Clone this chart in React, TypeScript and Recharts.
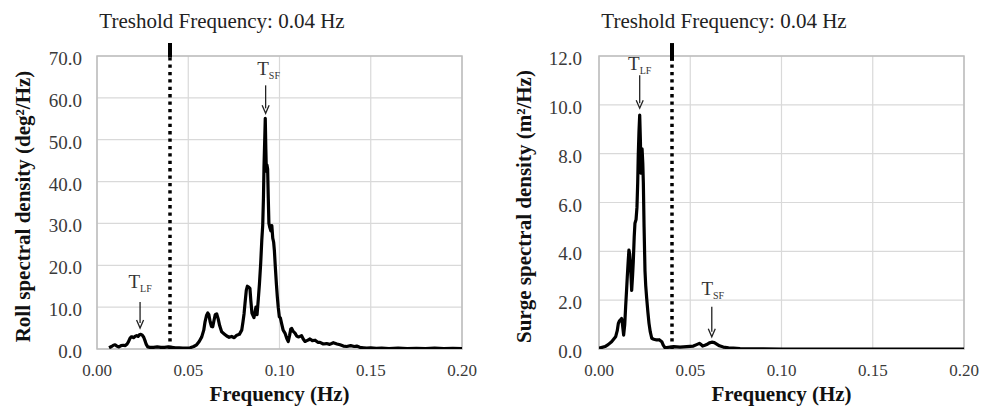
import React from 'react';
import {
  LineChart,
  Line,
  XAxis,
  YAxis,
  CartesianGrid,
  ReferenceLine,
  ReferenceDot,
  ReferenceArea,
  Label,
} from 'recharts';

// ---------------- DATA ----------------
const rollFreq = [
  0.0066, 0.008, 0.009, 0.0099, 0.0108, 0.012, 0.0132, 0.0144, 0.0155, 0.0165, 0.0172, 0.018, 0.0187,
  0.0193, 0.02, 0.0208, 0.0217, 0.0225, 0.0232, 0.024, 0.0248, 0.0256, 0.0263, 0.027, 0.0278, 0.029,
  0.031, 0.033, 0.035, 0.037, 0.039, 0.041, 0.043, 0.045, 0.047, 0.049, 0.051, 0.053, 0.0546, 0.056,
  0.0574, 0.0585, 0.0592, 0.06, 0.0607, 0.0613, 0.062, 0.0627, 0.0634, 0.0641, 0.0648, 0.0656, 0.0664,
  0.0672, 0.0683, 0.0697, 0.0711, 0.0724, 0.0738, 0.0752, 0.0766, 0.078, 0.0793, 0.08, 0.0806, 0.0811,
  0.0818, 0.0824, 0.0831, 0.0838, 0.0843, 0.0849, 0.0855, 0.086, 0.0866, 0.0871, 0.0877, 0.0884, 0.089,
  0.0897, 0.0903, 0.0908, 0.0912, 0.0915, 0.0919, 0.0922, 0.0925, 0.0928, 0.0931, 0.0935, 0.0938, 0.0942,
  0.0947, 0.0953, 0.0958, 0.0963, 0.0968, 0.0972, 0.0977, 0.0983, 0.0988, 0.0993, 0.0999, 0.1005, 0.1012,
  0.102, 0.103, 0.104, 0.1048, 0.1055, 0.1062, 0.1067, 0.1075, 0.1085, 0.1094, 0.1103, 0.1112, 0.1121,
  0.113, 0.114, 0.115, 0.116, 0.1167, 0.118, 0.1195, 0.121, 0.1222, 0.124, 0.1258, 0.1275, 0.1295,
  0.1315, 0.1332, 0.135, 0.1368, 0.139, 0.141, 0.1423, 0.144, 0.146, 0.1478, 0.15, 0.153, 0.156, 0.16,
  0.165, 0.17, 0.175, 0.18, 0.185, 0.19, 0.195, 0.2,
];
const rollVal = [
  0.3, 0.6, 0.9, 1.0, 0.7, 0.5, 0.8, 0.9, 0.8, 1.2, 1.7, 2.5, 2.9,
  2.9, 2.7, 3.0, 3.2, 3.0, 3.4, 3.5, 3.3, 2.8, 2.0, 1.1, 0.5, 0.4,
  0.4, 0.5, 0.4, 0.4, 0.5, 0.4, 0.3, 0.3, 0.2, 0.2, 0.3, 0.6, 1.0, 1.8,
  2.9, 4.5, 6.5, 8.0, 8.6, 8.2, 6.5, 5.4, 5.3, 6.8, 8.2, 8.4, 7.2,
  5.6, 4.1, 3.6, 3.1, 2.8, 3.0, 2.7, 3.3, 3.5, 4.5, 6.5, 8.5, 10.9,
  14.0, 15.0, 14.8, 14.5, 11.5, 8.6, 8.0, 7.5, 8.8, 10.0, 8.2, 12.0, 15.5,
  20.5, 26.0, 29.5, 36.0, 43.5, 50.0, 55.1, 48.0, 42.5, 44.0, 43.0, 37.0, 30.0,
  29.0, 28.2, 29.5, 26.5, 25.5, 23.5, 19.7, 15.5, 12.5, 10.0, 7.7, 7.4, 6.0,
  4.5, 3.8, 2.5, 1.8, 3.2, 4.8, 4.9, 4.2, 3.8, 3.1, 2.9, 3.0, 3.2,
  2.4, 1.8, 2.0, 2.2, 2.4, 2.0, 2.1, 1.6, 1.6, 1.2, 1.3, 1.1, 1.5,
  1.2, 1.0, 0.7, 0.6, 0.8, 0.6, 0.7, 0.4, 0.3, 0.2, 0.3, 0.15, 0.2, 0.1,
  0.2, 0.1, 0.15, 0.1, 0.2, 0.1, 0.15, 0.1,
];

const surgeFreq = [
  0.0, 0.0033, 0.005, 0.0069, 0.008, 0.0091, 0.01, 0.0106, 0.0112, 0.0119, 0.0124, 0.0128, 0.0135,
  0.0141, 0.0146, 0.0151, 0.0155, 0.016, 0.0164, 0.0168, 0.0172, 0.0176, 0.0179, 0.0184, 0.0188,
  0.0193, 0.0197, 0.0203, 0.0208, 0.0212, 0.0215, 0.0219, 0.0223, 0.0227, 0.023, 0.0233, 0.0236,
  0.024, 0.0243, 0.0247, 0.0252, 0.0256, 0.0261, 0.0268, 0.0274, 0.0281, 0.0289, 0.03, 0.0316,
  0.033, 0.0344, 0.0352, 0.0362, 0.0371, 0.039, 0.041, 0.0444, 0.048, 0.0517, 0.0535, 0.055, 0.056,
  0.0568, 0.058, 0.059, 0.0605, 0.0618, 0.0632, 0.0645, 0.066, 0.0681, 0.071, 0.0736, 0.0773, 0.08,
  0.09, 0.1, 0.2,
];
const surgeVal = [
  0.03, 0.1, 0.18, 0.3, 0.4, 0.5, 0.75, 1.05, 1.15, 1.2, 1.25, 1.05, 0.57,
  1.0, 1.73, 2.4, 2.96, 3.6, 4.05, 3.9, 3.5, 2.9, 2.4, 3.0, 3.6,
  4.6, 5.15, 5.3, 5.8, 6.8, 7.9, 8.9, 9.58, 8.5, 7.2, 7.8, 8.2,
  7.6, 6.8, 5.0, 3.2, 2.6, 2.1, 1.5, 1.05, 0.7, 0.44, 0.4, 0.37,
  0.38, 0.3, 0.16, 0.05, 0.06, 0.08, 0.1, 0.08, 0.1, 0.12, 0.18, 0.23, 0.18,
  0.12, 0.15, 0.18, 0.25, 0.28, 0.26, 0.2, 0.13, 0.08, 0.05, 0.04, 0.02, 0.01,
  0.01, 0.0, 0.0,
];

const freqTicks = [0, 0.05, 0.1, 0.15, 0.2];
const rollTicks = [0, 10, 20, 30, 40, 50, 60, 70];
const surgeTicks = [0, 2, 4, 6, 8, 10, 12];
const thresholdFreq = 0.04;
const titleText = 'Treshold Frequency: 0.04 Hz';
const xLabelText = 'Frequency (Hz)';
const rollLabelText = 'Roll spectral density (deg\u00B2/Hz)';
const surgeLabelText = 'Surge spectral density (m\u00B2/Hz)';

// annotation markers: frequency, arrow-tip value, subscript
const rollMarkers = [
  { f: 0.0236, v: 5.0, sub: 'LF' },
  { f: 0.0924, v: 56.3, sub: 'SF' },
];
const surgeMarkers = [
  { f: 0.0223, v: 9.86, sub: 'LF' },
  { f: 0.0618, v: 0.5, sub: 'SF' },
];

// ---------------- STYLE ----------------
const SERIF = '"Liberation Serif", "Times New Roman", serif';

const buildRows = (fs: number[], vs: number[]) => fs.map((f, i) => ({ f, v: vs[i] }));

const XTick = (props: any) => {
  const { x, y, payload } = props;
  return (
    <text x={x} y={y + 27} textAnchor="middle" fontFamily={SERIF} fontSize={17} fill="#3a3a3a">
      {Number(payload.value).toFixed(2)}
    </text>
  );
};

const YTick = (props: any) => {
  const { x, y, payload } = props;
  return (
    <text x={x} y={y + 9} textAnchor="end" fontFamily={SERIF} fontSize={19} fill="#3a3a3a">
      {Number(payload.value).toFixed(1)}
    </text>
  );
};

const makeArrow = (len: number, textOffset: number, dx: number, sub: string) => (props: any) => {
  const { cx, cy } = props;
  if (cx == null || cy == null) return <g />;
  const top = cy - len;
  return (
    <g>
      <line x1={cx} y1={top} x2={cx} y2={cy - 5} stroke="#222" strokeWidth={1.3} />
      <path
        d={`M${cx - 3.5},${cy - 8} L${cx},${cy} L${cx + 3.5},${cy - 8}`}
        fill="none"
        stroke="#222"
        strokeWidth={1.3}
      />
      <text x={cx + dx} y={cy - textOffset} textAnchor="middle" fontFamily={SERIF} fontSize={19} fill="#333">
        T
        <tspan fontSize={10} dy={4}>
          {sub}
        </tspan>
      </text>
    </g>
  );
};

type PanelProps = {
  left: number;
  width: number;
  yAxisWidth: number;
  marginRight: number;
  fs: number[];
  vs: number[];
  yTicks: number[];
  yMax: number;
  solidFrom: number;
  solidTo: number;
  yLabel: string;
  yLabelX: number;
  tickGap: number;
  markers: { f: number; v: number; sub: string }[];
  arrowSpecs: { len: number; off: number; dx: number }[];
};

const Panel = (p: PanelProps) => {
  const rows = buildRows(p.fs, p.vs);
  return (
    <div style={{ position: 'absolute', left: p.left, top: 0 }}>
      <LineChart
        width={p.width}
        height={407}
        data={rows}
        margin={{ top: 56, right: p.marginRight, bottom: 0, left: 0 }}
      >
        <CartesianGrid stroke="#d9d9d9" strokeWidth={1.2} />
        <ReferenceArea
          x1={0}
          x2={0.2}
          y1={0}
          y2={p.yMax}
          fill="none"
          stroke="#bdbdbd"
          strokeWidth={1.5}
          ifOverflow="visible"
        />
        <XAxis
          dataKey="f"
          type="number"
          domain={[0, 0.2]}
          ticks={freqTicks}
          interval={0}
          allowDataOverflow
          axisLine={false}
          tickLine={false}
          tickSize={0}
          tickMargin={0}
          height={58}
          tick={<XTick />}
        >
          <Label
            content={(lp: any) => {
              const vb = lp.viewBox || {};
              return (
                <text
                  x={vb.x + vb.width / 2}
                  y={vb.y + 52}
                  textAnchor="middle"
                  fontFamily={SERIF}
                  fontSize={21}
                  fontWeight="bold"
                  fill="#111"
                >
                  {xLabelText}
                </text>
              );
            }}
          />
        </XAxis>
        <YAxis
          type="number"
          domain={[0, p.yMax]}
          ticks={p.yTicks}
          interval={0}
          allowDataOverflow
          axisLine={false}
          tickLine={false}
          tickSize={0}
          tickMargin={p.tickGap}
          width={p.yAxisWidth}
          tick={<YTick />}
        >
          <Label
            content={(lp: any) => {
              const vb = lp.viewBox || {};
              const cx = p.yLabelX;
              const cy = vb.y + vb.height / 2 + 4;
              return (
                <text
                  x={cx}
                  y={cy}
                  transform={`rotate(-90, ${cx}, ${cy})`}
                  textAnchor="middle"
                  dominantBaseline="central"
                  fontFamily={SERIF}
                  fontSize={21}
                  fontWeight="bold"
                  fill="#111"
                >
                  {p.yLabel}
                </text>
              );
            }}
          />
        </YAxis>
        <ReferenceLine
          segment={[
            { x: thresholdFreq, y: 0 },
            { x: thresholdFreq, y: p.solidFrom },
          ]}
          stroke="#000"
          strokeWidth={3.5}
          strokeDasharray="3.3 4.1"
          ifOverflow="visible"
        />
        <ReferenceLine
          segment={[
            { x: thresholdFreq, y: p.solidFrom },
            { x: thresholdFreq, y: p.solidTo },
          ]}
          stroke="#000"
          strokeWidth={4}
          ifOverflow="visible"
          label={{
            content: (lp: any) => {
              const vb = lp.viewBox || {};
              return (
                <text
                  x={vb.x + 52}
                  y={vb.y - 15}
                  textAnchor="middle"
                  fontFamily={SERIF}
                  fontSize={21}
                  fill="#222"
                >
                  {titleText}
                </text>
              );
            },
          }}
        />
        <Line
          dataKey="v"
          type="linear"
          stroke="#000"
          strokeWidth={3.2}
          strokeLinejoin="round"
          dot={false}
          activeDot={false}
          isAnimationActive={false}
        />
        {p.markers.map((m, i) => (
          <ReferenceDot
            key={i}
            x={m.f}
            y={m.v}
            r={0}
            ifOverflow="visible"
            shape={makeArrow(p.arrowSpecs[i].len, p.arrowSpecs[i].off, p.arrowSpecs[i].dx, m.sub)}
          />
        ))}
      </LineChart>
    </div>
  );
};

export default function App() {
  return (
    <div style={{ position: 'absolute', left: 0, top: 0, width: 981, height: 407, background: '#fff' }}>
      <Panel
        left={0}
        width={490}
        yAxisWidth={97}
        marginRight={28}
        fs={rollFreq}
        vs={rollVal}
        yTicks={rollTicks}
        yMax={70}
        solidFrom={69.6}
        solidTo={73.1}
        yLabel={rollLabelText}
        yLabelX={23}
        tickGap={15}
        markers={rollMarkers}
        arrowSpecs={[
          { len: 26, off: 40, dx: 0 },
          { len: 28, off: 38, dx: 3 },
        ]}
      />
      <Panel
        left={490}
        width={491}
        yAxisWidth={109}
        marginRight={17}
        fs={surgeFreq}
        vs={surgeVal}
        yTicks={surgeTicks}
        yMax={12}
        solidFrom={11.8}
        solidTo={12.53}
        yLabel={surgeLabelText}
        yLabelX={34}
        tickGap={17}
        markers={surgeMarkers}
        arrowSpecs={[
          { len: 33, off: 38, dx: 0 },
          { len: 30, off: 42, dx: 1 },
        ]}
      />
    </div>
  );
}
